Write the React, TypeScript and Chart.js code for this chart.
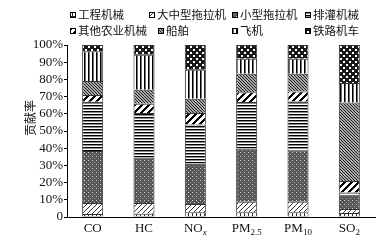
import React, { useEffect, useRef } from 'react';
import { Chart, registerables } from 'chart.js';

Chart.register(...registerables);

// ---- data ----
const categories = ['CO', 'HC', 'NOx', 'PM2.5', 'PM10', 'SO2'];
const labelMain = ['CO', 'HC', 'NO', 'PM', 'PM', 'SO'];
const labelSub = ['', '', 'x', '2.5', '10', '2'];
const seriesNames = ['工程机械', '大中型拖拉机', '小型拖拉机', '排灌机械', '其他农业机械', '船舶', '飞机', '铁路机车'];
const gongcheng = [1.7, 1.9, 2.7, 2.7, 2.7, 2.3];
const dazhong = [6.4, 6.2, 4.8, 6.2, 6.2, 2.3];
const xiaoxing = [30.3, 26.5, 23.5, 30.9, 29.9, 7.8];
const paiguan = [28.6, 25.8, 22.8, 27.0, 28.4, 1.9];
const qita = [4.0, 5.4, 6.6, 5.8, 5.8, 6.7];
const chuanbo = [8.0, 8.2, 8.4, 10.7, 10.3, 45.6];
const feiji = [17.3, 20.4, 16.8, 8.7, 8.7, 11.3];
const tielu = [3.7, 5.6, 14.4, 8.0, 8.0, 22.1];
const yTitle = '贡献率';

// ---- styles ----
const CJK = "'Noto Sans CJK SC', sans-serif";
const SERIF = "'Liberation Serif', 'DejaVu Serif', serif";
const legendCols = [[70, 149, 232, 305], [70, 158, 232, 305]];
const legendRows = [15, 31];

type PixFn = (x: number, y: number) => number;
function pixelPattern(ctx: CanvasRenderingContext2D, w: number, h: number, fn: PixFn): CanvasPattern {
  const c = document.createElement('canvas');
  c.width = w;
  c.height = h;
  const g = c.getContext('2d')!;
  const img = g.createImageData(w, h);
  for (let y = 0; y < h; y++) {
    for (let x = 0; x < w; x++) {
      const v = fn(x, y);
      const i = (y * w + x) * 4;
      img.data[i] = v;
      img.data[i + 1] = v;
      img.data[i + 2] = v;
      img.data[i + 3] = 255;
    }
  }
  g.putImageData(img, 0, 0);
  return ctx.createPattern(c, 'repeat')!;
}

function makePatterns(ctx: CanvasRenderingContext2D): CanvasPattern[] {
  const railDots = new Set(['1,1', '2,1', '1,2', '2,2', '4,4', '5,4', '4,5', '5,5']);
  return [
    pixelPattern(ctx, 4, 4, (x, y) => (x % 4 === 0 || y % 4 === 0 ? 40 : 255)),
    pixelPattern(ctx, 5, 5, (x, y) => ((x + y) % 5 === 0 ? 50 : 255)),
    pixelPattern(ctx, 4, 4, (x, y) => (x === 0 && y === 0 ? 215 : x === 2 && y === 2 ? 170 : 85)),
    pixelPattern(ctx, 1, 3, (_x, y) => (y === 0 ? 0 : y === 1 ? 140 : 255)),
    pixelPattern(ctx, 7, 7, (x, y) => ((x + y) % 7 < 3 ? 0 : 255)),
    pixelPattern(ctx, 3, 3, (x, y) => ((((x - y) % 3) + 3) % 3 === 0 ? 30 : 170)),
    pixelPattern(ctx, 4, 1, (x) => (x === 0 ? 0 : x === 1 ? 110 : 255)),
    pixelPattern(ctx, 6, 6, (x, y) => (railDots.has(x + ',' + y) ? 255 : 25)),
  ];
}

export default function App() {
  const ref = useRef<HTMLCanvasElement | null>(null);

  useEffect(() => {
    document.body.style.margin = '0';
    const canvas = ref.current!;
    const ctx = canvas.getContext('2d')!;
    const patterns = makePatterns(ctx);
    const seriesValues = [gongcheng, dazhong, xiaoxing, paiguan, qita, chuanbo, feiji, tielu];

    const extras = {
      id: 'extras',
      afterDraw(chart: any) {
        const c: CanvasRenderingContext2D = chart.ctx;
        c.save();
        // legend
        c.font = `11.5px ${CJK}`;
        c.textBaseline = 'middle';
        c.textAlign = 'left';
        seriesNames.forEach((name, i) => {
          const row = i < 4 ? 0 : 1;
          const x = legendCols[row][i % 4];
          const y = legendRows[row];
          c.fillStyle = patterns[i];
          c.fillRect(x, y - 3, 6, 6);
          c.strokeStyle = '#000';
          c.lineWidth = 1;
          c.strokeRect(x + 0.5, y - 2.5, 5, 5);
          c.fillStyle = '#111';
          c.fillText(name, x + 8, y);
        });
        // y title
        c.save();
        c.translate(30, 118);
        c.rotate(-Math.PI / 2);
        c.textAlign = 'center';
        c.textBaseline = 'middle';
        c.fillStyle = '#111';
        c.font = `12px ${CJK}`;
        c.fillText(yTitle, 0, 0);
        c.restore();
        // x labels with subscripts
        const xs = chart.scales.x;
        const base = chart.chartArea.bottom + 15;
        c.textBaseline = 'alphabetic';
        c.textAlign = 'left';
        c.fillStyle = '#111';
        categories.forEach((_cat, i) => {
          const cx = xs.getPixelForValue(i);
          const mainFont = `13px ${SERIF}`;
          const subFont = (i === 2 ? 'italic ' : '') + `9px ${SERIF}`;
          c.font = mainFont;
          const wm = c.measureText(labelMain[i]).width;
          c.font = subFont;
          const ws = labelSub[i] ? c.measureText(labelSub[i]).width : 0;
          const x0 = cx - (wm + ws) / 2;
          c.font = mainFont;
          c.fillText(labelMain[i], x0, base);
          if (labelSub[i]) {
            c.font = subFont;
            c.fillText(labelSub[i], x0 + wm, base + 3);
          }
        });
        c.restore();
      },
    };

    const chart = new Chart(canvas, {
      type: 'bar',
      data: {
        labels: categories,
        datasets: seriesNames.map((name, i) => ({
          label: name,
          data: seriesValues[i],
          backgroundColor: patterns[i],
          borderColor: '#333',
          borderWidth: 1,
          barPercentage: 0.41,
          categoryPercentage: 1,
        })),
      },
      options: {
        responsive: false,
        animation: false,
        devicePixelRatio: 1,
        layout: { padding: { top: 45, right: 10, left: 0, bottom: 0 } },
        plugins: { legend: { display: false }, tooltip: { enabled: false } },
        scales: {
          x: {
            stacked: true,
            grid: { display: false },
            border: { display: true, color: '#000', width: 1 },
            ticks: { display: false },
            afterFit: (s: any) => {
              s.height = 23;
            },
          },
          y: {
            stacked: true,
            min: 0,
            max: 100,
            grid: { drawOnChartArea: false, drawTicks: true, tickLength: 3, color: '#000' },
            border: { display: true, color: '#000', width: 1 },
            ticks: {
              stepSize: 10,
              autoSkip: false,
              padding: 1,
              color: '#111',
              font: { family: SERIF, size: 13 },
              callback: (v: any) => (Number(v) === 0 ? '0' : v + '%'),
            },
            afterFit: (s: any) => {
              s.width = 67;
            },
          },
        },
      },
      plugins: [extras],
    });
    return () => chart.destroy();
  }, []);

  return <canvas ref={ref} width={385} height={240} style={{ display: 'block' }} />;
}
